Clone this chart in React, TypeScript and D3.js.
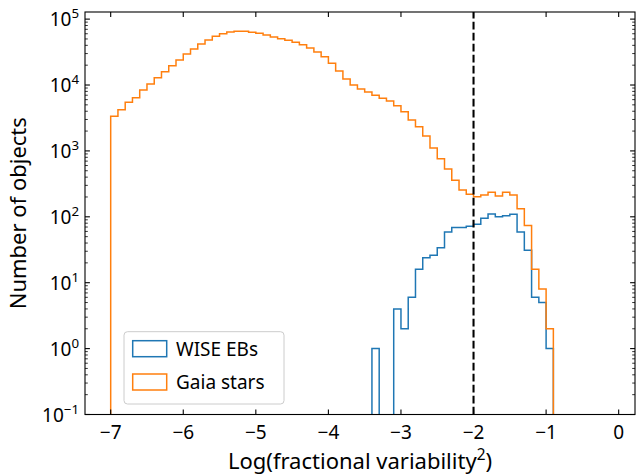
import React from 'react';
import * as d3 from 'd3';

// ---- data ----
const binWidth = 0.1;
const gaiaStart = -7.0;
const gaiaCounts = [
  3350, 4220, 5460, 6410, 8400, 10400, 12900, 15900, 19600, 23900,
  29500, 35200, 41900, 48200, 54800, 60000, 63700, 65300, 65300, 63100,
  60900, 57400, 53500, 50400, 47700, 44400, 40900, 36400, 31700, 26900,
  21300, 16300, 12300, 10000, 8700, 7800, 7000, 6300, 5700, 4860,
  3940, 2940, 2330, 1680, 1107, 762, 531, 358, 255, 219,
  202, 214, 236, 207, 236, 214, 133, 74, 16, 8,
  2,
];
const wiseStart = -3.4;
const wiseCounts = [
  1, 0, 0, 4, 2, 6, 16, 24, 26, 34,
  59, 69, 69, 72, 77, 95, 110, 100, 104, 109,
  59, 31, 6, 5, 1,
];
const xTicks = [-7, -6, -5, -4, -3, -2, -1, 0];
const yExponents = [-1, 0, 1, 2, 3, 4, 5];
const thresholdX = -2;
const seriesNames = ['WISE EBs', 'Gaia stars'];
const xLabel = 'Log(fractional variability';
const yLabel = 'Number of objects';

// ---- layout ----
const W = 636;
const H = 475;
const L = 85;
const R = 635;
const T = 12;
const B = 414.5;
const FONT = '"Noto Sans", "Open Sans", sans-serif';
const colors = ['#1f77b4', '#ff7f0e'];
const TICK_FS = 19;
const LABEL_FS = 22;
const LEG_FS = 19;

const fmtMinus = (v: number) => String(v).replace('-', '\u2212');

export default function App() {
  const x = d3.scaleLinear().domain([-7.354, 0.225]).range([L, R]);
  const y = d3.scaleLog().domain([0.1, Math.pow(10, 5.108)]).range([B, T]);

  const stepPath = (start: number, counts: number[]) => {
    const p = d3.path();
    const base = B + 6;
    p.moveTo(x(start), base);
    counts.forEach((c, i) => {
      const yy = c > 0 ? y(c) : base;
      p.lineTo(x(start + i * binWidth), yy);
      p.lineTo(x(start + (i + 1) * binWidth), yy);
    });
    p.lineTo(x(start + counts.length * binWidth), base);
    return p.toString();
  };

  const minorY: number[] = [];
  for (let e = -1; e <= 5; e++) {
    for (let m = 2; m <= 9; m++) {
      const v = m * Math.pow(10, e);
      if (v <= y.domain()[1]) minorY.push(v);
    }
  }

  const majLen = 4.9;
  const minLen = 2.8;

  const legX = 124;
  const legY = 331.7;
  const legW = 160;
  const legH = 72.3;

  return (
    <svg width={W} height={H} style={{ position: 'absolute', left: 0, top: 0 }} fontFamily={FONT}>
      <defs>
        <clipPath id="plotclip">
          <rect x={L} y={T} width={R - L} height={B - T} />
        </clipPath>
      </defs>
      <rect x={0} y={0} width={W} height={H} fill="#fff" />
      <g clipPath="url(#plotclip)">
        <path d={stepPath(wiseStart, wiseCounts)} fill="none" stroke={colors[0]} strokeWidth={1.5} />
        <path d={stepPath(gaiaStart, gaiaCounts)} fill="none" stroke={colors[1]} strokeWidth={1.5} />
        <line x1={x(thresholdX)} x2={x(thresholdX)} y1={B} y2={T} stroke="#000" strokeWidth={2.08} strokeDasharray="7.7 3.3" />
      </g>

      {/* ticks */}
      <g stroke="#000">
        {xTicks.map((t) => (
          <g key={'xt' + t}>
            <line x1={x(t)} x2={x(t)} y1={B} y2={B - majLen} strokeWidth={1.1} />
            <line x1={x(t)} x2={x(t)} y1={T} y2={T + majLen} strokeWidth={1.1} />
          </g>
        ))}
        {yExponents.map((e) => (
          <g key={'yt' + e}>
            <line x1={L} x2={L + majLen} y1={y(Math.pow(10, e))} y2={y(Math.pow(10, e))} strokeWidth={1.1} />
            <line x1={R} x2={R - majLen} y1={y(Math.pow(10, e))} y2={y(Math.pow(10, e))} strokeWidth={1.1} />
          </g>
        ))}
        {minorY.map((v, i) => (
          <g key={'ym' + i}>
            <line x1={L} x2={L + minLen} y1={y(v)} y2={y(v)} strokeWidth={0.8} />
            <line x1={R} x2={R - minLen} y1={y(v)} y2={y(v)} strokeWidth={0.8} />
          </g>
        ))}
      </g>

      {/* spines */}
      <rect x={L} y={T} width={R - L} height={B - T} fill="none" stroke="#000" strokeWidth={1.1} />

      {/* tick labels */}
      <g fontSize={TICK_FS} fill="#000">
        {xTicks.map((t) => (
          <text key={'xl' + t} x={x(t)} y={439} textAnchor="middle">{fmtMinus(t)}</text>
        ))}
        {yExponents.map((e) => (
          <text key={'yl' + e} x={79} y={y(Math.pow(10, e)) + 7} textAnchor="end">
            10<tspan dy={-8} fontSize={13.3}>{fmtMinus(e)}</tspan>
          </text>
        ))}
      </g>

      {/* axis labels */}
      <text x={(L + R) / 2} y={468.5} textAnchor="middle" fontSize={LABEL_FS}>
        {xLabel}<tspan dy={-9} fontSize={15.4}>2</tspan><tspan dy={9}>)</tspan>
      </text>
      <text transform={`translate(26, ${(T + B) / 2}) rotate(-90)`} textAnchor="middle" fontSize={LABEL_FS}>{yLabel}</text>

      {/* legend */}
      <g>
        <rect x={legX} y={legY} width={legW} height={legH} rx={3.5} fill="#fff" fillOpacity={0.8} stroke="#cccccc" strokeWidth={1} />
        {seriesNames.map((n, i) => (
          <g key={n}>
            <rect x={132.7} y={340.7 + i * 33.3} width={34} height={16} fill="none" stroke={colors[i]} strokeWidth={1.5} />
            <text x={176} y={355.5 + i * 33.3} fontSize={LEG_FS}>{n}</text>
          </g>
        ))}
      </g>
    </svg>
  );
}
